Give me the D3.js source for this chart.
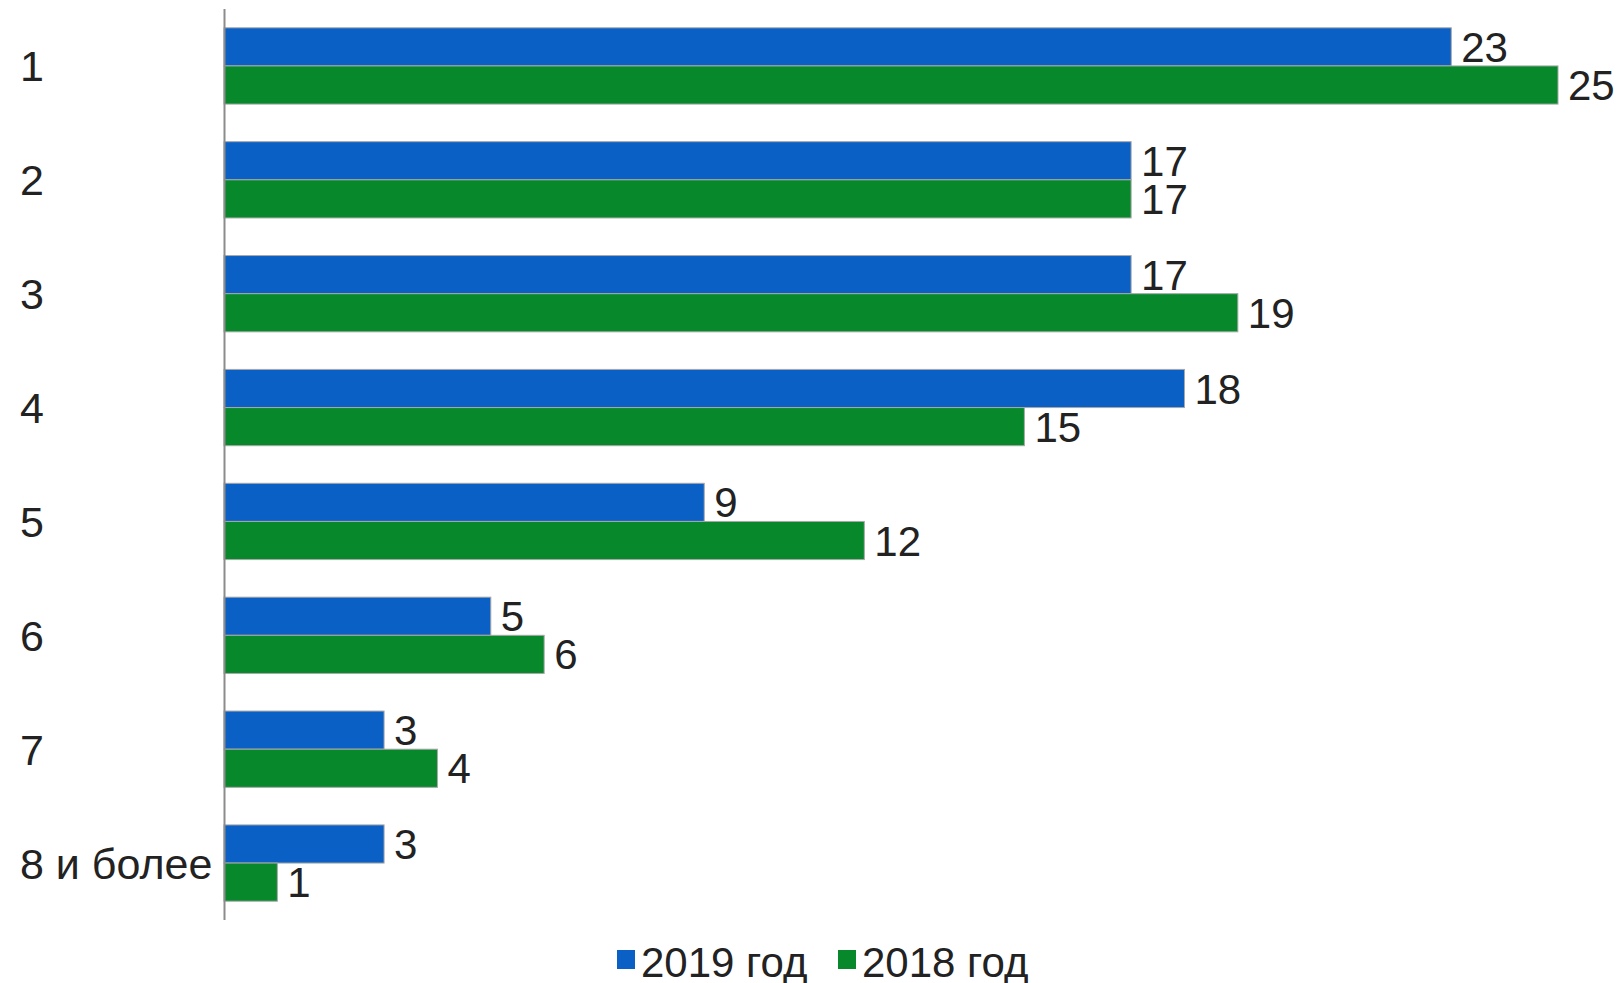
<!DOCTYPE html>
<html>
<head>
<meta charset="utf-8">
<script src="https://cdn.jsdelivr.net/npm/d3@7"></script>
<style>
  body { margin: 0; background: #fff; }
  text { font-family: "Liberation Sans", Arial, sans-serif; fill: #222; }
</style>
</head>
<body>
<div id="chart"></div>
<script>
// data
var categories = ["1", "2", "3", "4", "5", "6", "7", "8 и более"]
var series = ["2019 год", "2018 год"]
var values2019 = [23, 17, 17, 18, 9, 5, 3, 3]
var values2018 = [25, 17, 19, 15, 12, 6, 4, 1]

var W = 1622, H = 983
var margin = { top: 9, left: 224, bottom: 63 }

var color = d3.scaleOrdinal()
  .domain(series)
  .range(["#0a60c4", "#07882b"])

var svg = d3.select("#chart")
  .append("svg")
  .attr("width", W)
  .attr("height", H)

var rows = categories.map(function (c, i) {
  return { cat: c, vals: [values2019[i], values2018[i]] }
})

// scales
var x = d3.scaleLinear()
  .domain([0, 25])
  .range([margin.left, 1558])

var y = d3.scaleBand()
  .domain(categories)
  .range([margin.top, H - margin.bottom])
  .paddingInner(0.33)
  .paddingOuter(0.165)

var ySub = d3.scaleBand()
  .domain(series)
  .range([0, y.bandwidth()])

// bars
var group = svg.append("g")
  .selectAll("g")
  .data(rows)
  .enter()
  .append("g")
  .attr("transform", function (d) { return "translate(0," + y(d.cat) + ")" })

group.selectAll("rect")
  .data(function (d) { return d.vals.map(function (v, j) { return { s: series[j], v: v } }) })
  .enter()
  .append("rect")
  .attr("x", x(0))
  .attr("y", function (d) { return ySub(d.s) })
  .attr("width", function (d) { return x(d.v) - x(0) })
  .attr("height", ySub.bandwidth())
  .style("fill", function (d) { return color(d.s) })
  .style("stroke", "#a8a8a8")
  .style("stroke-width", 1)

// value labels
group.selectAll("text")
  .data(function (d) { return d.vals.map(function (v, j) { return { s: series[j], v: v } }) })
  .enter()
  .append("text")
  .attr("x", function (d) { return x(d.v) + 10 })
  .attr("y", function (d) { return ySub(d.s) + ySub.bandwidth() / 2 })
  .attr("dy", "0.36em")
  .style("font-size", "42px")
  .text(function (d) { return d.v })

// Y axis
var yAxis = svg.append("g")
  .attr("transform", "translate(" + margin.left + ",0)")
  .call(d3.axisLeft(y).tickSize(0).tickPadding(0))
yAxis.select(".domain")
  .attr("d", "M0.5," + margin.top + "V" + (H - margin.bottom))
  .attr("stroke", "#8c8c8c")
  .attr("stroke-width", 2)
yAxis.selectAll(".tick text")
  .attr("x", 20 - margin.left)
  .attr("text-anchor", "start")
  .attr("dy", "0.36em")
  .style("font-family", "'Liberation Sans', Arial, sans-serif")
  .style("font-size", "43px")
  .style("fill", "#222")

// legend
var legendX = [617, 838]
var legend = svg.append("g")
  .selectAll("g")
  .data(series)
  .enter()
  .append("g")
  .attr("transform", function (d, i) { return "translate(" + legendX[i] + ",0)" })

legend.append("rect")
  .attr("x", 0)
  .attr("y", 950)
  .attr("width", 18)
  .attr("height", 19)
  .style("fill", function (d) { return color(d) })

legend.append("text")
  .attr("x", 24)
  .attr("y", 977)
  .style("font-size", "42px")
  .text(function (d) { return d })
</script>
</body>
</html>
